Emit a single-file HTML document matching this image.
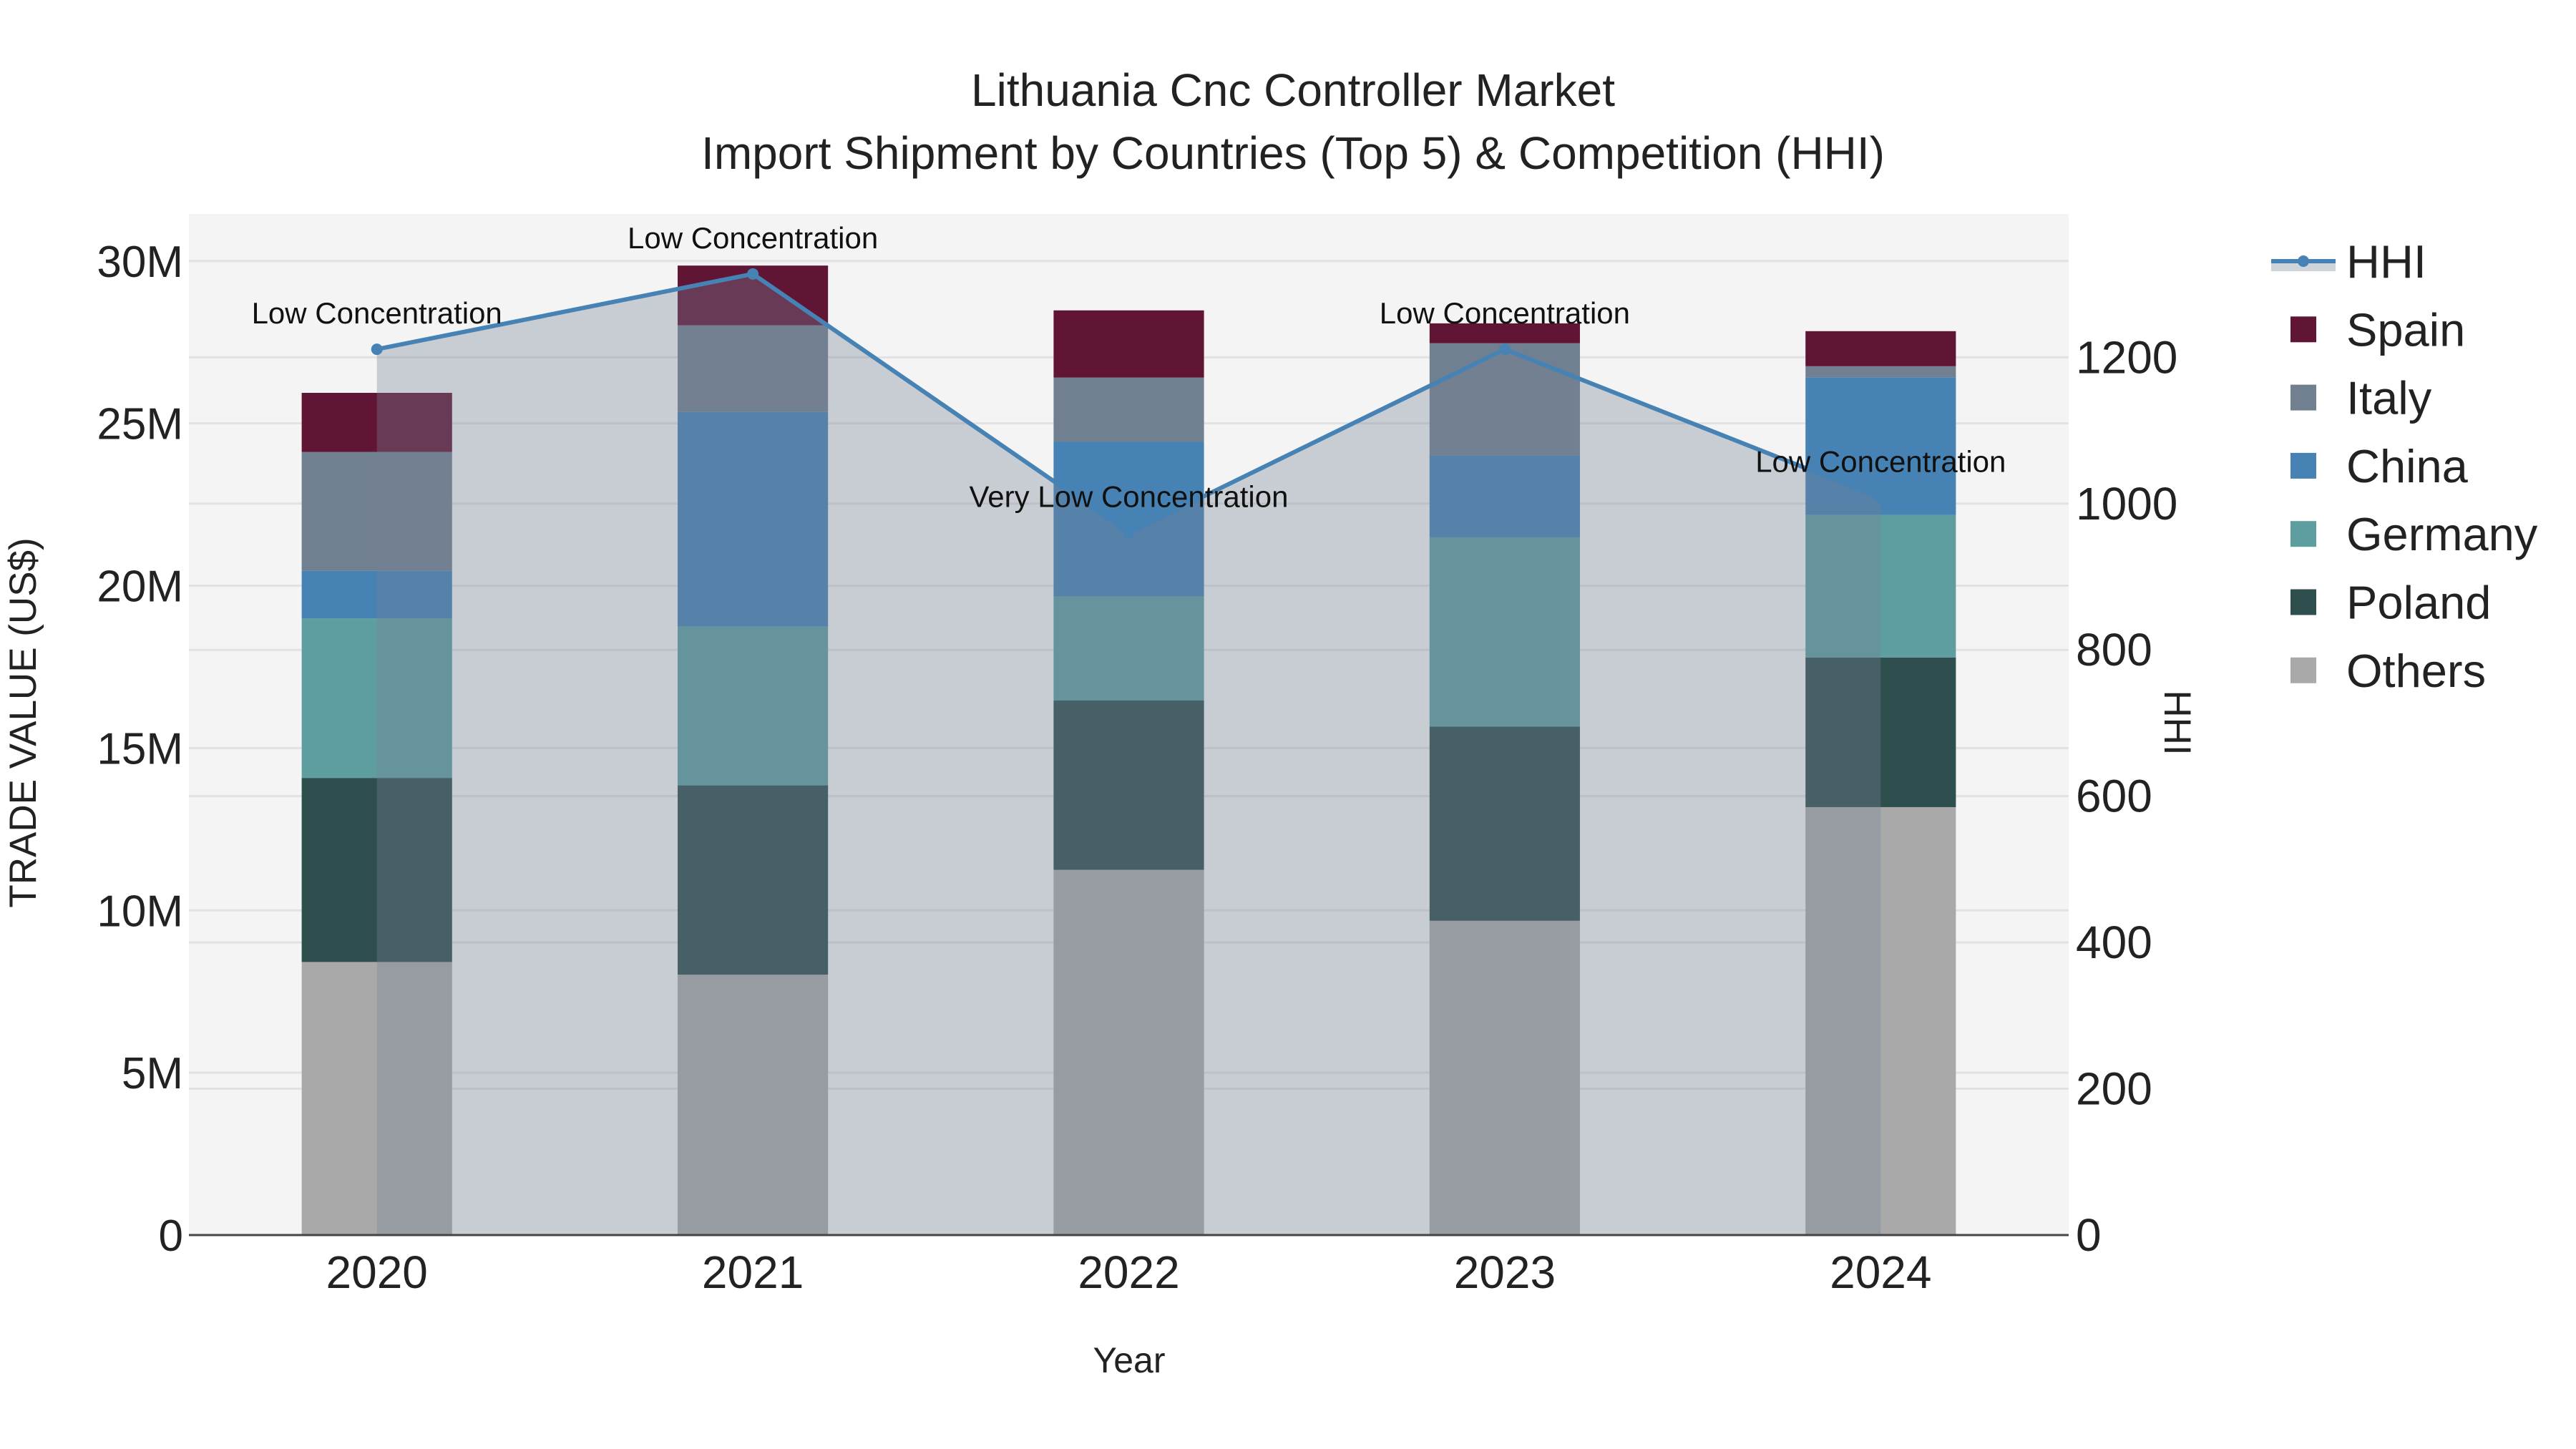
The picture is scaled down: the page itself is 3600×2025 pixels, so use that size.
<!DOCTYPE html>
<html><head><meta charset="utf-8">
<style>
html,body{margin:0;padding:0;background:#fff;}
svg{display:block;font-family:"Liberation Sans",Arial,sans-serif;}
</style></head>
<body>
<svg id="chart" width="3600" height="2025" viewBox="0 0 3600 2025">
  <rect x="0" y="0" width="3600" height="2025" fill="#ffffff"/>
  <rect x="264" y="299" width="2627" height="1427" fill="#f4f4f4"/>
  <g id="grid"></g>
  <g id="bars"></g>
  <g id="hhi"></g>
  <g id="axes"></g>
  <text x="1807" y="148" font-size="64" text-anchor="middle" fill="#222">Lithuania Cnc Controller Market</text>
  <text x="1807" y="236" font-size="64" text-anchor="middle" fill="#222">Import Shipment by Countries (Top 5) &amp; Competition (HHI)</text>
  <text x="1578" y="1918" font-size="50" text-anchor="middle" fill="#222">Year</text>
  <text transform="translate(50,1010) rotate(-90)" font-size="53" text-anchor="middle" fill="#222">TRADE VALUE (US$)</text>
  <text transform="translate(3025,1010) rotate(90)" font-size="53" text-anchor="middle" fill="#222">HHI</text>
  <g id="legend"></g>
</svg>
<script>
const years = ['2020','2021','2022','2023','2024'];
const seriesNames = ['Others','Poland','Germany','China','Italy','Spain'];
const others  = [8.41, 8.02, 11.25, 9.68, 13.18];
const poland  = [5.67, 5.83, 5.22, 5.98, 4.61];
const germany = [4.91, 4.89, 3.20, 5.83, 4.39];
const china   = [1.47, 6.62, 4.76, 2.53, 4.24];
const italy   = [3.66, 2.66, 1.98, 3.45, 0.34];
const spain   = [1.82, 1.84, 2.07, 0.61, 1.08];
const hhi     = [1211, 1314, 960, 1211, 1008];
const hhiLabels = ['Low Concentration','Low Concentration','Very Low Concentration','Low Concentration','Low Concentration'];
const yTicks  = [0,5,10,15,20,25,30];
const yTickLabels = ['0','5M','10M','15M','20M','25M','30M'];
const y2Ticks = [0,200,400,600,800,1000,1200];

const NS='http://www.w3.org/2000/svg';
const colors={Others:'#a9a9a9',Poland:'#2f4f4f',Germany:'#5f9ea0',China:'#4682b4',Italy:'#708090',Spain:'#611535'};
const seriesData={Others:others,Poland:poland,Germany:germany,China:china,Italy:italy,Spain:spain};
const L=264,R=2891,T=299,B=1726;
const step=(R-L)/years.length;
const xS=i=>L+step*(i+0.5);
const yS=v=>B-v*(B-T)/31.45;
const y2S=v=>B-v*(B-T)/1396;
function mk(tag,attrs,parent){const e=document.createElementNS(NS,tag);for(const k in attrs)e.setAttribute(k,attrs[k]);parent.appendChild(e);return e;}

const grid=document.getElementById('grid');
yTicks.forEach(t=>{ if(t===0)return;
  const l=mk('line',{x1:L,x2:R,y1:yS(t),y2:yS(t),stroke:'#e2e2e2','stroke-width':3},grid);
  
  
});
y2Ticks.forEach(t=>{ if(t===0)return;
  const l=mk('line',{x1:L,x2:R,y1:y2S(t),y2:y2S(t),stroke:'#e2e2e2','stroke-width':3},grid);
  
  
});

const bars=document.getElementById('bars');
const bw=step*0.4;
years.forEach((yr,i)=>{
  let base=0;
  seriesNames.forEach(s=>{
    const v=seriesData[s][i];
    const r=mk('rect',{x:xS(i)-bw/2,y:yS(base+v),width:bw,height:yS(base)-yS(base+v),fill:colors[s]},bars);
    
    
    base+=v;
  });
});

const hg=document.getElementById('hhi');
let pts=hhi.map((v,i)=>xS(i)+','+y2S(v)).join(' ');
const area=mk('polygon',{points:xS(0)+','+B+' '+pts+' '+xS(hhi.length-1)+','+B,fill:'rgba(117,129,149,0.35)'},hg);


const line=mk('polyline',{points:pts,fill:'none',stroke:'#4682b4','stroke-width':6},hg);


hhi.forEach((v,i)=>{
  const c=mk('circle',{cx:xS(i),cy:y2S(v),r:8,fill:'#4682b4'},hg);
  
  
  const t=mk('text',{x:xS(i),y:y2S(v)-36,'font-size':42,'text-anchor':'middle',fill:'#111'},hg);
  t.textContent=hhiLabels[i];
  
  
});

const ax=document.getElementById('axes');
const base=mk('line',{x1:L,x2:R,y1:B,y2:B,stroke:'#444','stroke-width':3},ax);


yTicks.forEach((t,i)=>{
  const e=mk('text',{x:L-8,y:yS(t)+22,'font-size':62,'text-anchor':'end',fill:'#222'},ax);
  e.textContent=yTickLabels[i];
  
  
});
y2Ticks.forEach(t=>{
  const e=mk('text',{x:R+10,y:y2S(t)+22,'font-size':64,'text-anchor':'start',fill:'#222'},ax);
  e.textContent=String(t);
  
  
});
years.forEach((yr,i)=>{
  const e=mk('text',{x:xS(i),y:1800,'font-size':64,'text-anchor':'middle',fill:'#222'},ax);
  e.textContent=yr;
  
  
});

const lg=document.getElementById('legend');
const legendItems=['HHI','Spain','Italy','China','Germany','Poland','Others'];
legendItems.forEach((n,i)=>{
  const cy=365+i*95.3;
  const g=mk('g',{},lg);
  
  
  if(n==='HHI'){
    mk('rect',{x:3174,y:cy-2,width:90,height:16,fill:'rgba(117,129,149,0.35)'},g);
    mk('line',{x1:3174,x2:3264,y1:cy,y2:cy,stroke:'#4682b4','stroke-width':6},g);
    mk('circle',{cx:3219,cy:cy,r:8,fill:'#4682b4'},g);
  } else {
    mk('rect',{x:3201,y:cy-18,width:36,height:36,fill:colors[n]},g);
  }
  const t=mk('text',{x:3279,y:cy+23,'font-size':65,fill:'#222'},g);
  t.textContent=n;
});
</script>
</body></html>
